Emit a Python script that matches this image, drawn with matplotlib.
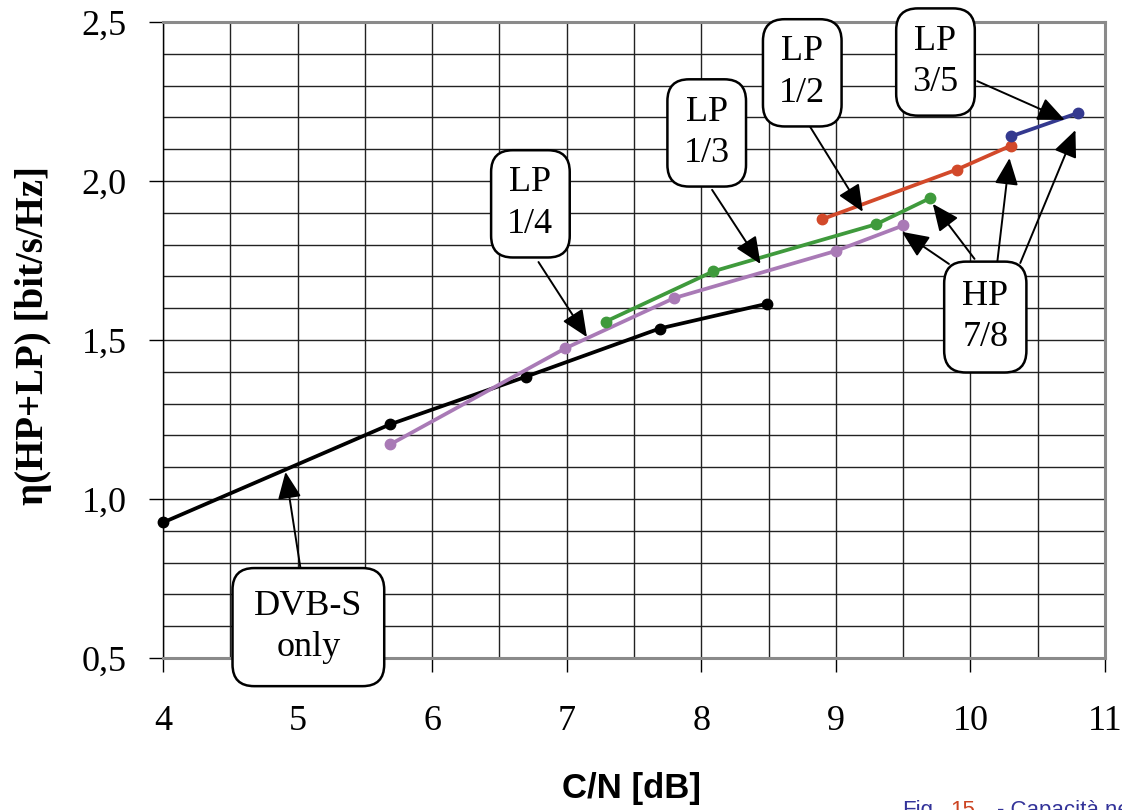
import matplotlib.pyplot as plt
import numpy as np
from matplotlib.ticker import MultipleLocator, FuncFormatter

# curves: eta(HP+LP) vs C/N
dvb_x = [4.0, 5.69, 6.70, 7.69, 8.49]
dvb_y = [0.926, 1.235, 1.385, 1.536, 1.614]
lp14_x = [5.69, 6.99, 7.80, 9.00, 9.50]
lp14_y = [1.172, 1.474, 1.632, 1.780, 1.860]
lp13_x = [7.29, 8.09, 9.30, 9.70]
lp13_y = [1.558, 1.716, 1.864, 1.946]
lp12_x = [8.90, 9.90, 10.30]
lp12_y = [1.880, 2.036, 2.111]
lp35_x = [10.30, 10.80]
lp35_y = [2.140, 2.214]

# callout boxes
labels = ["LP\n1/4", "LP\n1/3", "LP\n1/2", "LP\n3/5", "HP\n7/8", "DVB-S\nonly"]
label_x = [6.73, 8.04, 8.75, 9.74, 10.11, 5.08]
label_y = [1.928, 2.151, 2.340, 2.374, 1.572, 0.597]
label_pad = [0.45, 0.45, 0.45, 0.45, 0.5, 0.6]

# arrows (start, tip)
arrows = [
    ((6.79, 1.745), (7.15, 1.509)),
    ((8.08, 1.972), (8.44, 1.739)),
    ((8.80, 2.176), (9.20, 1.903)),
    ((10.05, 2.314), (10.70, 2.192)),
    ((9.84, 1.739), (9.49, 1.840)),
    ((10.03, 1.755), (9.72, 1.928)),
    ((10.20, 1.748), (10.29, 2.072)),
    ((10.37, 1.742), (10.78, 2.160)),
    ((5.02, 0.786), (4.91, 1.085)),
]

serif = 'Liberation Serif'
sans = 'Liberation Sans'

fig = plt.figure(figsize=(11.22, 8.10), dpi=100)
ax = fig.add_axes([0.1453, 0.1877, 0.8396, 0.7852])

series = [
    (dvb_x, dvb_y, 'black'),
    (lp14_x, lp14_y, '#a97ab6'),
    (lp13_x, lp13_y, '#3f9a3c'),
    (lp12_x, lp12_y, '#d2492a'),
    (lp35_x, lp35_y, '#34398f'),
]
for xs, ys, c in series:
    ax.plot(xs, ys, color=c, lw=2.7, marker='o', ms=7.5, zorder=4, clip_on=False)

ax.set_xlim(4, 11)
ax.set_ylim(0.5, 2.5)
ax.xaxis.set_major_locator(MultipleLocator(1))
ax.xaxis.set_minor_locator(MultipleLocator(0.5))
ax.yaxis.set_major_locator(MultipleLocator(0.5))
ax.yaxis.set_minor_locator(MultipleLocator(0.1))
ax.yaxis.set_major_formatter(FuncFormatter(lambda v, p: f"{v:.1f}".replace('.', ',')))
ax.grid(which='both', color='#222222', lw=1.0)
ax.set_axisbelow(True)
ax.tick_params(which='major', direction='out', length=10, width=1, color='black')
ax.tick_params(which='minor', length=0)
ax.tick_params(axis='x', pad=24)
ax.tick_params(axis='y', pad=16)
for lab in ax.get_xticklabels() + ax.get_yticklabels():
    lab.set_fontfamily(serif)
    lab.set_fontsize(26)

for side in ['top', 'right', 'bottom']:
    ax.spines[side].set_color('#8a8a8a')
    ax.spines[side].set_linewidth(2.2)
ax.spines['left'].set_color('black')
ax.spines['left'].set_linewidth(1.0)

for (sx, sy), (tx, ty) in arrows:
    ax.annotate('', xy=(tx, ty), xytext=(sx, sy), annotation_clip=False,
                arrowprops=dict(arrowstyle='-|>,head_length=0.75,head_width=0.33',
                                color='black', lw=1.4, shrinkA=0, shrinkB=0,
                                mutation_scale=22), zorder=5)

for txt, x, y, pd in zip(labels, label_x, label_y, label_pad):
    ax.text(x, y, txt, ha='center', va='center', fontsize=26, family=serif,
            linespacing=1.35, zorder=6, clip_on=False,
            bbox=dict(boxstyle=f'round,pad={pd},rounding_size=0.6', fc='white',
                      ec='black', lw=1.8))

fig.text(0.030, 0.586, r"η(HP+LP) [bit/s/Hz]", rotation=90, ha='center', va='center',
         fontsize=28, fontweight='bold', family=serif)
fig.text(0.563, 0.027, "C/N [dB]", ha='center', va='center', fontsize=25,
         fontweight='bold', family=sans)

# caption cut off at the bottom edge, as in the source page
fig.text(0.804, 0.012, "Fig.", color='#333399', fontsize=16, family=sans, va='top')
fig.text(0.847, 0.012, "15", color='#cc4422', fontsize=16, family=sans, va='top')
fig.text(0.889, 0.012, "- Capacità ne", color='#333399', fontsize=16, family=sans, va='top')

fig.savefig('out.png', dpi=100)
